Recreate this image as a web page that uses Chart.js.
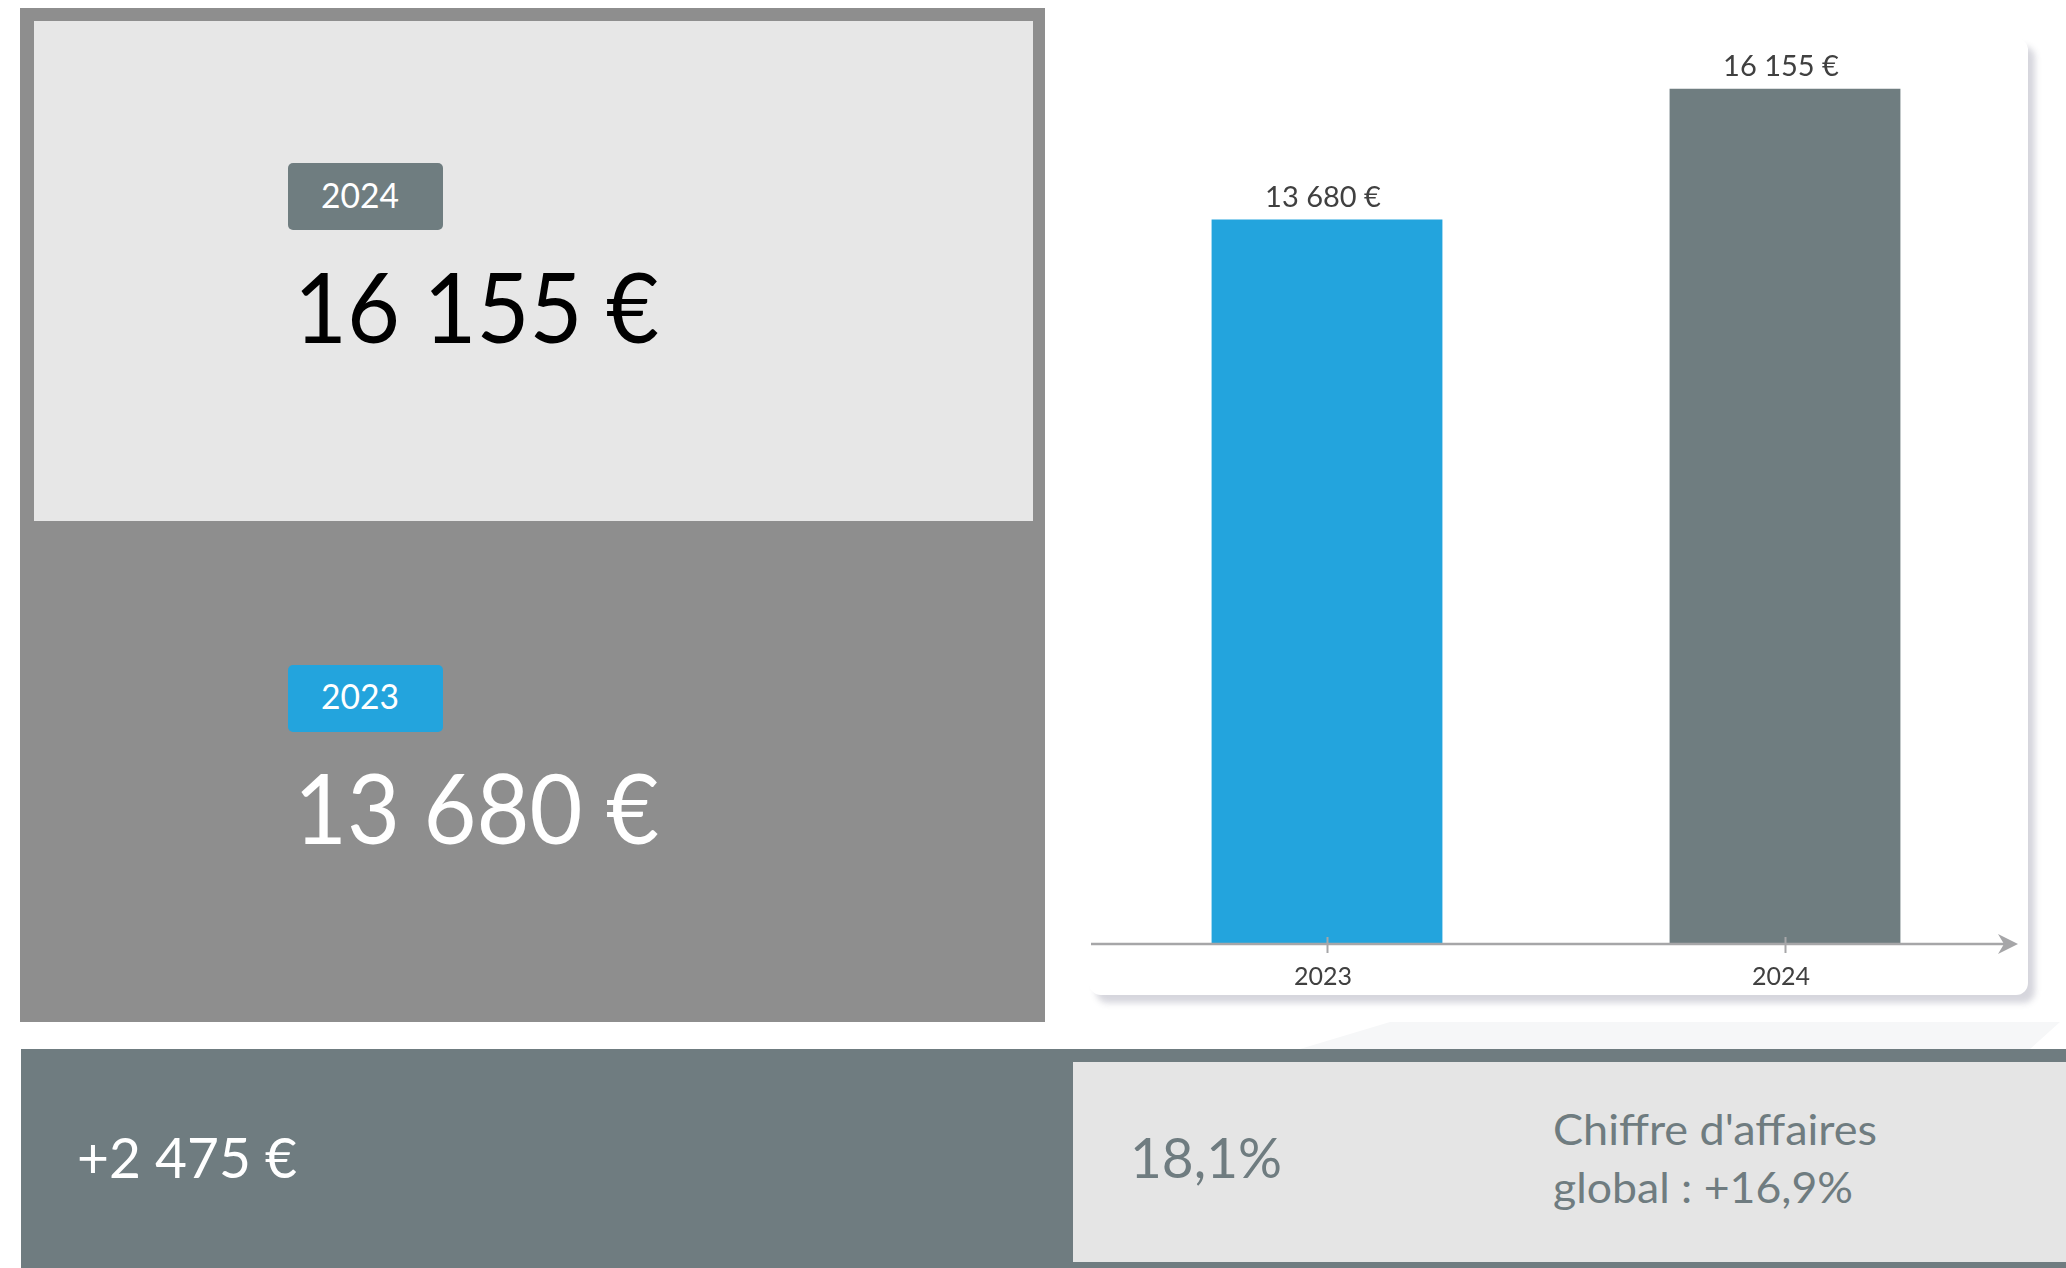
<!DOCTYPE html>
<html><head><meta charset="utf-8">
<script src="https://cdn.jsdelivr.net/npm/chart.js@4.4.1/dist/chart.umd.min.js"></script>
<style>
html,body{margin:0;padding:0;background:#fff;width:2066px;height:1268px;overflow:hidden;font-family:Lato,'Open Sans',sans-serif;position:relative;}
.abs{position:absolute;}
.txt{position:absolute;white-space:nowrap;line-height:1;transform-origin:0 0;}
</style></head><body>
<div class="abs" style="left:20px;top:8px;width:1025px;height:1014px;background:#8e8e8e"></div>
<div class="abs" style="left:34px;top:21px;width:999px;height:500px;background:#e7e7e7"></div>
<div class="abs" style="left:288px;top:163px;width:155px;height:67px;background:#6f7d80;border-radius:5px"></div>
<div class="abs" style="left:288px;top:665px;width:155px;height:67px;background:#23a4dd;border-radius:5px"></div>
<div class="abs" style="left:0;top:1022px;width:2066px;height:27px;background:#f6f7f8;clip-path:polygon(1390px 0,2060px 0,2030px 27px,1300px 27px)"></div>
<div class="abs" style="left:1089px;top:38px;width:939px;height:957px;background:#fff;border-radius:12px;box-shadow:7px 8px 6px rgba(70,70,100,0.22)"></div>
<div class="abs" style="left:21px;top:1049px;width:2045px;height:219px;background:#6f7c80"></div>
<div class="abs" style="left:1073px;top:1062px;width:993px;height:200px;background:#e5e5e5"></div>
<canvas id="c" class="abs" style="left:1089px;top:38px;" width="939" height="990"></canvas>
<script>
// ---- data ----
const categories = ['2023', '2024'];
const values = [13680, 16155];
const barColors = ['#23a4dd', '#6f7d80'];
const yMax = 17000;
const globalLine1 = "Chiffre d'affaires";
const globalLine2 = "global : +16,9%";

function fmtEuro(v){ return String(Math.abs(v)).replace(/\B(?=(\d{3})+(?!\d))/g,' ') + ' €'; }
const diff = values[1] - values[0];
const diffLabel = (diff >= 0 ? '+' : '-') + fmtEuro(diff);
const pctLabel = ((diff / values[0]) * 100).toFixed(1).replace('.', ',') + '%';

function placeText(text, o){
  const d = document.createElement('div'); d.className = 'txt';
  d.style.fontSize = o.size + 'px'; d.style.color = o.color; d.style.left = '0px'; d.style.top = '0px';
  const s = document.createElement('span'); s.textContent = text;
  const b = document.createElement('span'); b.style.cssText = 'display:inline-block;width:0;height:0;';
  d.appendChild(s); d.appendChild(b);
  document.body.appendChild(d);
  const baseOff = b.offsetTop;
  const w = s.getBoundingClientRect().width;
  const sc = o.width / w;
  d.style.transform = 'scaleX(' + sc + ')';
  d.style.left = o.left + 'px';
  d.style.top = (o.baseline - baseOff) + 'px';
}

placeText(categories[1], {left:321, baseline:208, size:35, width:78, color:'#fff'});
placeText(fmtEuro(values[1]), {left:294, baseline:343, size:96, width:365, color:'#000'});
placeText(categories[0], {left:321, baseline:709, size:35, width:78, color:'#fff'});
placeText(fmtEuro(values[0]), {left:294, baseline:844, size:96, width:365, color:'#fff'});
placeText(diffLabel, {left:77, baseline:1178, size:57, width:220, color:'#fff'});
placeText(pctLabel, {left:1130, baseline:1178, size:57, width:152, color:'#6f7c80'});
placeText(globalLine1, {left:1553, baseline:1145, size:42, width:324, color:'#6f7c80'});
placeText(globalLine2, {left:1553, baseline:1203, size:42, width:300, color:'#6f7c80'});

const axisPlugin = {
  id:'axisArrow',
  afterDatasetsDraw(chart){
    const ctx = chart.ctx, xs = chart.scales.x, a = chart.chartArea;
    const y = a.bottom + 1;
    const tip = a.right + 4;
    ctx.save();
    ctx.strokeStyle = '#a6a6a8'; ctx.fillStyle = '#a6a6a8'; ctx.lineWidth = 2.5;
    ctx.beginPath(); ctx.moveTo(a.left - 7, y); ctx.lineTo(tip - 6, y); ctx.stroke();
    ctx.beginPath(); ctx.moveTo(tip, y); ctx.lineTo(tip - 20, y - 10); ctx.lineTo(tip - 14, y); ctx.lineTo(tip - 20, y + 10); ctx.closePath(); ctx.fill();
    ctx.lineWidth = 2;
    xs.ticks.forEach((t, i) => {
      const px = Math.round(xs.getPixelForTick(i)) + 0.5;
      ctx.beginPath(); ctx.moveTo(px, y - 7); ctx.lineTo(px, y + 9); ctx.stroke();
    });
    // data labels
    const meta = chart.getDatasetMeta(0);
    ctx.fillStyle = '#404040'; ctx.font = '29px Lato'; ctx.textAlign = 'center'; ctx.textBaseline = 'alphabetic';
    meta.data.forEach((bar, i) => { ctx.fillText(fmtEuro(values[i]), bar.x - 4, bar.y - 13); });
    ctx.restore();
  }
};

new Chart(document.getElementById('c'), {
  type:'bar',
  data:{ labels:categories, datasets:[{ data:values, backgroundColor:barColors, borderWidth:0, barPercentage:0.504, categoryPercentage:1 }] },
  options:{
    responsive:false, animation:false,
    layout:{ padding:{ left:9, right:14, top:6, bottom:17 } },
    plugins:{ legend:{display:false}, tooltip:{enabled:false} },
    scales:{
      x:{ grid:{display:false, drawTicks:false, tickLength:0}, border:{display:false},
          ticks:{ color:'#404040', font:{family:'Lato', size:25}, padding:19, labelOffset:-4 } },
      y:{ display:false, min:0, max:yMax }
    }
  },
  plugins:[axisPlugin]
});
</script>
</body></html>
